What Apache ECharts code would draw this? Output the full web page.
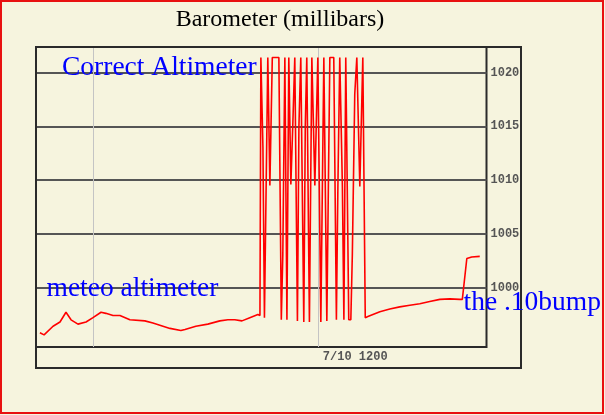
<!DOCTYPE html>
<html>
<head>
<meta charset="utf-8">
<script src="https://cdn.jsdelivr.net/npm/echarts@6.0.0/dist/echarts.min.js"></script>
<style>
  html, body { margin: 0; padding: 0; background: #f6f4de; }
  #chart { width: 605px; height: 415px; }
</style>
</head>
<body>
<div id="chart"></div>
<script>
// hours relative to 7/10 0000
const hours = [
  -2.83, -2.61, -2.13, -1.76, -1.44, -1.17, -0.80, -0.37, 0.00, 0.43,
  0.69, 1.07, 1.44, 1.97, 2.77, 3.20, 3.57, 4.11, 4.69, 4.91,
  5.49, 6.13, 6.77, 7.20, 7.57, 7.95, 8.37, 8.80,
  // the jumpy stretch
  8.91, 8.96, 9.07, 9.15, 9.25, 9.33, 9.44, 9.57, 9.92, 10.05,
  10.13, 10.24, 10.35, 10.45, 10.56, 10.67, 10.77, 10.91, 10.99, 11.09,
  11.25, 11.33, 11.41, 11.55, 11.68, 11.84, 12.00, 12.16, 12.32, 12.48,
  12.64, 12.85, 12.99, 13.07, 13.17, 13.31, 13.39, 13.49, 13.65, 13.76,
  13.84, 13.97, 14.08, 14.24, 14.40, 14.53, 14.67,
  15.31, 15.84, 16.37, 16.91, 17.44, 17.97, 18.51, 19.04, 19.57, 19.71,
  19.95, 20.21, 20.64
];
const millibars = [
  995.8, 995.6, 996.4, 996.8, 997.7, 997.0, 996.6, 996.8, 997.2, 997.7,
  997.6, 997.4, 997.4, 997.0, 996.9, 996.7, 996.5, 996.2, 996.0, 996.1,
  996.4, 996.6, 996.9, 997.0, 997.0, 996.9, 997.2, 997.5,
  997.4, 1021.4, 1013.0, 997.2, 997.2, 1021.4, 1009.5, 1021.4, 1021.4, 997.0,
  1003.0, 1021.4, 997.0, 1021.4, 1009.6, 1015.5, 1021.4, 996.9, 1015.0, 1021.4,
  996.8, 1015.0, 1021.4, 996.8, 1021.4, 1009.5, 1021.4, 996.8, 1021.4, 996.9,
  1021.4, 1021.4, 997.0, 1009.4, 1021.4, 1009.4, 997.0, 1021.4, 997.0, 997.0,
  1003.0, 1018.0, 1021.4, 1009.4, 1021.4, 997.2, 997.3,
  997.75, 998.0, 998.2, 998.35, 998.5, 998.7, 998.9, 998.95, 998.9, 998.9,
  1002.7, 1002.85, 1002.9
];
const yTicks = [1000, 1005, 1010, 1015, 1020];
const xGridHours = [0, 12];
const xLabelHours = [12];
const xLabelText = { 12: '7/10 1200' };

const chart = echarts.init(document.getElementById('chart'), null, { renderer: 'canvas' });

const labelFont = {
  fontFamily: 'Liberation Mono',
  fontWeight: 'bold',
  fontSize: 12,
  color: '#555',
};

chart.setOption({
  backgroundColor: '#f6f4de',
  animation: false,
  grid: {
    left: 36,
    top: 47,
    right: 118.5,
    bottom: 68,
    show: true,
    borderColor: '#2a2a2a',
    borderWidth: 2,
  },
  xAxis: {
    type: 'value',
    min: -3.04,
    max: 21,
    axisLine: { show: false },
    axisTick: { show: false, customValues: xGridHours },
    splitLine: { show: true, lineStyle: { color: '#c4c4c4', width: 1 } },
    axisLabel: {
      customValues: xLabelHours,
      formatter: v => xLabelText[v] || '',
      align: 'left',
      margin: 4,
      padding: [0, 0, 0, 5],
      ...labelFont,
    },
  },
  yAxis: {
    type: 'value',
    position: 'right',
    min: 994.47,
    max: 1022.38,
    axisLine: { show: false },
    axisTick: { show: false, customValues: yTicks },
    splitLine: { show: true, lineStyle: { color: '#555', width: 2 } },
    axisLabel: {
      customValues: yTicks,
      formatter: v => String(v),
      margin: 4,
      ...labelFont,
    },
  },
  series: [{
    type: 'line',
    data: hours.map((h, i) => [h, millibars[i]]),
    showSymbol: false,
    lineStyle: { color: '#ff0000', width: 1.6 },
    z: 3,
  }],
  graphic: [
    {
      type: 'rect',
      shape: { x: 1, y: 1, width: 602, height: 412 },
      style: { fill: 'none', stroke: '#e81010', lineWidth: 2 },
      z: 100,
    },
    {
      type: 'rect',
      shape: { x: 36, y: 47, width: 485, height: 321 },
      style: { fill: 'none', stroke: '#2a2a2a', lineWidth: 2 },
      z: 100,
    },
    {
      type: 'text',
      x: 280, y: 20,
      style: { text: 'Barometer (millibars)', font: '24px "Liberation Serif"', fill: '#000', align: 'center', verticalAlign: 'middle' },
      z: 100,
    },
    {
      type: 'text',
      x: 62, y: 68,
      style: { text: 'Correct Altimeter', font: '27.5px "Liberation Serif"', fill: '#0000ff', align: 'left', verticalAlign: 'middle' },
      z: 100,
    },
    {
      type: 'text',
      x: 46.5, y: 289,
      style: { text: 'meteo altimeter', font: '27.5px "Liberation Serif"', fill: '#0000ff', align: 'left', verticalAlign: 'middle' },
      z: 100,
    },
    {
      type: 'text',
      x: 463.5, y: 303,
      style: { text: 'the .10bump', font: '27.5px "Liberation Serif"', fill: '#0000ff', align: 'left', verticalAlign: 'middle' },
      z: 100,
    },
  ],
});
</script>
</body>
</html>
